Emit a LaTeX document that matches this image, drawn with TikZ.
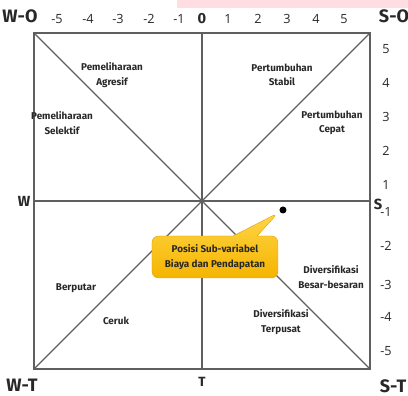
\documentclass[tikz,border=0pt]{standalone}
\usepackage{fontspec}
\setmainfont{Open Sans}
\newfontfamily\labelfont{Fira Sans}
\usepackage{tikz}
\usepackage{xcolor}
\usetikzlibrary{calc,positioning,shapes.callouts}
\definecolor{gridline}{RGB}{95,95,95}
\definecolor{labeltext}{RGB}{40,40,40}
\definecolor{calloutTop}{RGB}{255,214,70}
\definecolor{calloutBot}{RGB}{245,180,0}
\definecolor{topband}{RGB}{255,221,226}

\begin{document}
\begin{tikzpicture}[x=0.75pt,y=0.75pt,
    quad/.style={font=\labelfont\fontsize{7.4}{11}\selectfont\bfseries,text=labeltext,align=center,inner sep=1pt},
    corner/.style={font=\labelfont\fontsize{13.5}{14}\selectfont\bfseries,text=labeltext,inner sep=0pt},
    tick/.style={font=\fontsize{9.5}{10}\selectfont,text=labeltext,inner sep=0pt}]
  \useasboundingbox (-202,-195) rectangle (206,201);
  \fill[topband] (-25,193) rectangle (206,201);
  % corners of the matrix
  \coordinate (wo) at (-168,168);
  \coordinate (so) at (168,168);
  \coordinate (wt) at (-168,-168);
  \coordinate (st) at (168,-168);
  \coordinate (ctr) at (0,0);
  \draw[gridline,line width=0.8pt] (wo) rectangle (st);
  \draw[gridline,line width=0.8pt] (wo)--(st) (so)--(wt);
  \draw[gridline,line width=0.8pt] ($(wo)!0.5!(so)$)--($(wt)!0.5!(st)$);
  \draw[gridline,line width=0.8pt] ($(wo)!0.5!(wt)$)--($(so)!0.5!(st)$);
  % axis numbers
  \foreach \v/\x in {-5/-145,-4/-114,-3/-84,-2/-53,-1/-23,1/26,2/56,3/85,4/114,5/142}
    \node[tick] (top\v) at (\x,182) {\v};
  \node[tick,font=\labelfont\fontsize{11}{11}\selectfont\bfseries] (top0) at (0,182) {0};
  \foreach \v/\y in {5/152,4/118,3/84,2/50,1/16,-1/-11,-2/-45,-3/-84,-4/-116,-5/-150}
    \node[tick] (right\v) at (184,\y) {\v};
  % corner labels
  \node[corner] (lwo) at (-182,185) {W-O};
  \node[corner] (lso) at (192,185) {S-O};
  \node[corner,font=\labelfont\fontsize{11}{11}\selectfont\bfseries] (lw) at (-178,0) {W};
  \node[corner,font=\labelfont\fontsize{11}{11}\selectfont\bfseries] (ls) at (176,-3) {S};
  \node[corner] (lwt) at (-180,-184) {W-T};
  \node[corner,font=\labelfont\fontsize{10}{10}\selectfont\bfseries] (lt) at (0,-181) {T};
  \node[corner] (lst) at (191,-185) {S-T};
  % strategy areas
  \node[quad] (agresif) at (-90,126) {Pemeliharaan\\Agresif};
  \node[quad] (stabil) at (80,126) {Pertumbuhan\\Stabil};
  \node[quad] (selektif) at (-140,78) {Pemeliharaan\\Selektif};
  \node[quad] (cepat) at (130,78) {Pertumbuhan\\Cepat};
  \node[quad] (berputar) at (-126,-87) {Berputar};
  \node[quad] (ceruk) at (-86,-120) {Ceruk};
  \node[quad] (besar) at (129,-76) {Diversifikasi\\Besar-besaran};
  \node[quad] (terpusat) at (79,-121) {Diversifikasi\\Terpusat};
  % position of the sub-variable
  \fill[black] (81,-9) circle (3.5);
  \coordinate (tip) at (76,-12);
  \node[rectangle callout,rounded corners=5pt,top color=calloutTop,bottom color=calloutBot,
        draw=calloutBot!90!black,line width=0.3pt,minimum width=94.5pt,minimum height=31.5pt,
        callout absolute pointer={(tip)},callout pointer width=18pt,
        font=\labelfont\fontsize{7.4}{11}\selectfont\bfseries,text=labeltext,align=center]
    (posisi) at (13,-56) {Posisi Sub-variabel\\Biaya dan Pendapatan};
\end{tikzpicture}
\end{document}
